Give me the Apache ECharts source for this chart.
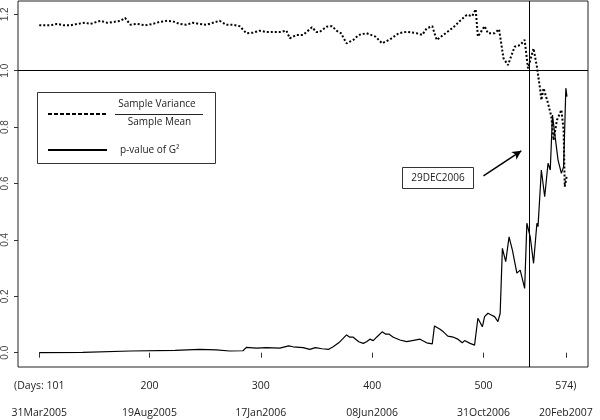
<!DOCTYPE html>
<html>
<head>
<meta charset="utf-8">
<script src="https://cdn.jsdelivr.net/npm/echarts@6/dist/echarts.min.js"></script>
<style>html,body{margin:0;padding:0;background:#fff}#c{width:600px;height:420px}</style>
</head>
<body>
<div id="c"></div>
<script>
// Sample Variance / Sample Mean (dotted)
const ratioDays = [101,111,117,123,129,135,142,147,156,162,168,174,178,183,189,196,203,209,216,221,227,233,239,245,251,257,263,269,275,281,287,293,299,305,311,317,323,326,332,338,346,350,353,359,364,368,372,377,383,388,395,403,409,416,424,431,440,445,449,454,458,464,473,479,485,490,493,495,501,504,510,514,518,522,528,533,537,540,545,548,551,552,554,558,561,563,566,570,572,573,575];
const ratioValues = [1.161,1.161,1.166,1.161,1.161,1.166,1.170,1.166,1.177,1.170,1.173,1.177,1.187,1.163,1.166,1.161,1.166,1.173,1.177,1.175,1.166,1.163,1.170,1.166,1.163,1.170,1.177,1.163,1.163,1.158,1.133,1.135,1.142,1.137,1.137,1.137,1.142,1.115,1.127,1.127,1.154,1.137,1.138,1.156,1.158,1.142,1.133,1.097,1.109,1.127,1.133,1.121,1.097,1.111,1.133,1.138,1.133,1.127,1.150,1.158,1.109,1.127,1.154,1.177,1.198,1.194,1.218,1.121,1.158,1.133,1.133,1.147,1.044,1.020,1.085,1.091,1.109,1.008,1.079,1.014,0.932,0.896,0.938,0.884,0.837,0.754,0.825,0.861,0.789,0.589,0.630];
// p-value of G^2 (solid)
const pvalDays = [101,140,183,223,245,260,272,284,287,296,305,317,325,329,338,344,349,355,361,365,370,374,377,380,383,388,392,395,398,401,404,409,412,415,419,425,431,436,443,449,454,455,456,461,464,468,473,477,481,483,488,492,495,499,501,504,507,510,513,515,517,520,523,526,530,533,537,539,542,545,548,549,552,553,555,558,560,562,564,567,570,572,574,575];
const pvalValues = [0.000,0.001,0.006,0.008,0.012,0.010,0.006,0.007,0.019,0.016,0.018,0.016,0.024,0.021,0.018,0.012,0.018,0.014,0.012,0.021,0.035,0.051,0.063,0.055,0.055,0.039,0.033,0.039,0.048,0.043,0.055,0.074,0.066,0.066,0.055,0.045,0.039,0.043,0.048,0.035,0.031,0.033,0.095,0.083,0.074,0.059,0.055,0.048,0.035,0.043,0.033,0.027,0.122,0.092,0.128,0.140,0.134,0.128,0.110,0.140,0.370,0.323,0.411,0.364,0.282,0.293,0.228,0.459,0.411,0.317,0.459,0.447,0.648,0.654,0.553,0.672,0.648,0.843,0.778,0.683,0.636,0.660,0.938,0.908];

const dayTicks = [101,200,300,400,500,574];
const dayLabels = ['(Days: 101','200','300','400','500','574)'];
const dateLabels = ['31Mar2005','19Aug2005','17Jan2006','08Jun2006','31Oct2006','20Feb2007'];
const yTicks = [0,0.2,0.4,0.6,0.8,1.0,1.2];
const yTickLabels = ['0.0','0.2','0.4','0.6','0.8','1.0','1.2'];
const refLevel = 1.0;
const eventDay = 541;
const eventLabel = '29DEC2006';
const arrowFrom = [500, 0.627];
const arrowTo = [534, 0.716];

const ratioData = ratioDays.map((d,i)=>[d, ratioValues[i]]);
const pvalData = pvalDays.map((d,i)=>[d, pvalValues[i]]);

const FONT = 'Open Sans';
const chart = echarts.init(document.getElementById('c'), null, {renderer:'canvas'});
const xBase = {
  type:'value', min:81.9, max:593.9, splitLine:{show:false}, axisLine:{show:false}
};
chart.setOption({
  animation:false,
  backgroundColor:'#fff',
  grid:{left:18, right:12, top:1, bottom:53, show:true, borderColor:'#222', borderWidth:1, containLabel:false, outerBoundsMode:'none'},
  xAxis:[
    Object.assign({}, xBase, {
      position:'bottom',
      axisTick:{show:true, length:5, customValues:dayTicks, lineStyle:{color:'#333', width:1}},
      axisLabel:{customValues:dayTicks, margin:14, color:'#222', fontFamily:FONT, fontSize:10.5,
        formatter:v=>dayLabels[dayTicks.indexOf(v)]}
    }),
    Object.assign({}, xBase, {
      position:'bottom', offset:27,
      axisTick:{show:false},
      axisLabel:{customValues:dayTicks, margin:14, color:'#222', fontFamily:FONT, fontSize:10.5,
        formatter:v=>dateLabels[dayTicks.indexOf(v)]}
    })
  ],
  yAxis:{
    type:'value', min:-0.0507, max:1.2472, splitLine:{show:false}, axisLine:{show:false},
    axisTick:{show:true, length:4, customValues:yTicks, lineStyle:{color:'#333'}},
    axisLabel:{customValues:yTicks, rotate:90, margin:8, color:'#444', fontFamily:'Liberation Sans', fontSize:10,
      formatter:v=>yTickLabels[yTicks.indexOf(v)]}
  },
  series:[
    {
      name:'Sample Variance / Sample Mean', type:'line', data:ratioData, showSymbol:false, silent:true,
      lineStyle:{color:'#000', width:2, type:[2,2]},
      markLine:{silent:true, symbol:'none', label:{show:false},
        lineStyle:{color:'#000', width:1, type:'solid'},
        data:[{yAxis:refLevel},{xAxis:eventDay}]}
    },
    {
      name:'p-value of G²', type:'line', data:pvalData, showSymbol:false, silent:true,
      lineStyle:{color:'#000', width:1.2},
      markLine:{silent:true, symbol:['none','arrow'], symbolSize:[7,9], label:{show:false},
        lineStyle:{color:'#000', width:1.5, type:'solid'},
        data:[[{coord:arrowFrom},{coord:arrowTo}]]}
    }
  ],
  graphic:[
    {type:'rect', shape:{x:37.5,y:92.5,width:178,height:71}, style:{fill:'#fff', stroke:'#333', lineWidth:1}, z:100},
    {type:'line', shape:{x1:48,y1:114,x2:107,y2:114}, style:{stroke:'#000', lineWidth:2, lineDash:[4,2]}, z:101},
    {type:'text', x:157, y:104, style:{text:'Sample Variance', font:'10px "Open Sans"', fill:'#222', align:'center', verticalAlign:'middle'}, z:101},
    {type:'line', shape:{x1:115,y1:114.5,x2:203,y2:114.5}, style:{stroke:'#222', lineWidth:1}, z:101},
    {type:'text', x:159.5, y:122.5, style:{text:'Sample Mean', font:'10px "Open Sans"', fill:'#222', align:'center', verticalAlign:'middle'}, z:101},
    {type:'line', shape:{x1:48,y1:150,x2:107,y2:150}, style:{stroke:'#000', lineWidth:2}, z:101},
    {type:'text', x:120, y:150, style:{text:'p-value of G²', font:'10px "Open Sans"', fill:'#222', align:'left', verticalAlign:'middle'}, z:101},
    {type:'rect', shape:{x:402.5,y:167.5,width:71,height:21}, style:{fill:'#fff', stroke:'#333', lineWidth:1}, z:100},
    {type:'text', x:438, y:178, style:{text:eventLabel, font:'10px "Open Sans"', fill:'#222', align:'center', verticalAlign:'middle'}, z:101}
  ]
});
</script>
</body>
</html>
